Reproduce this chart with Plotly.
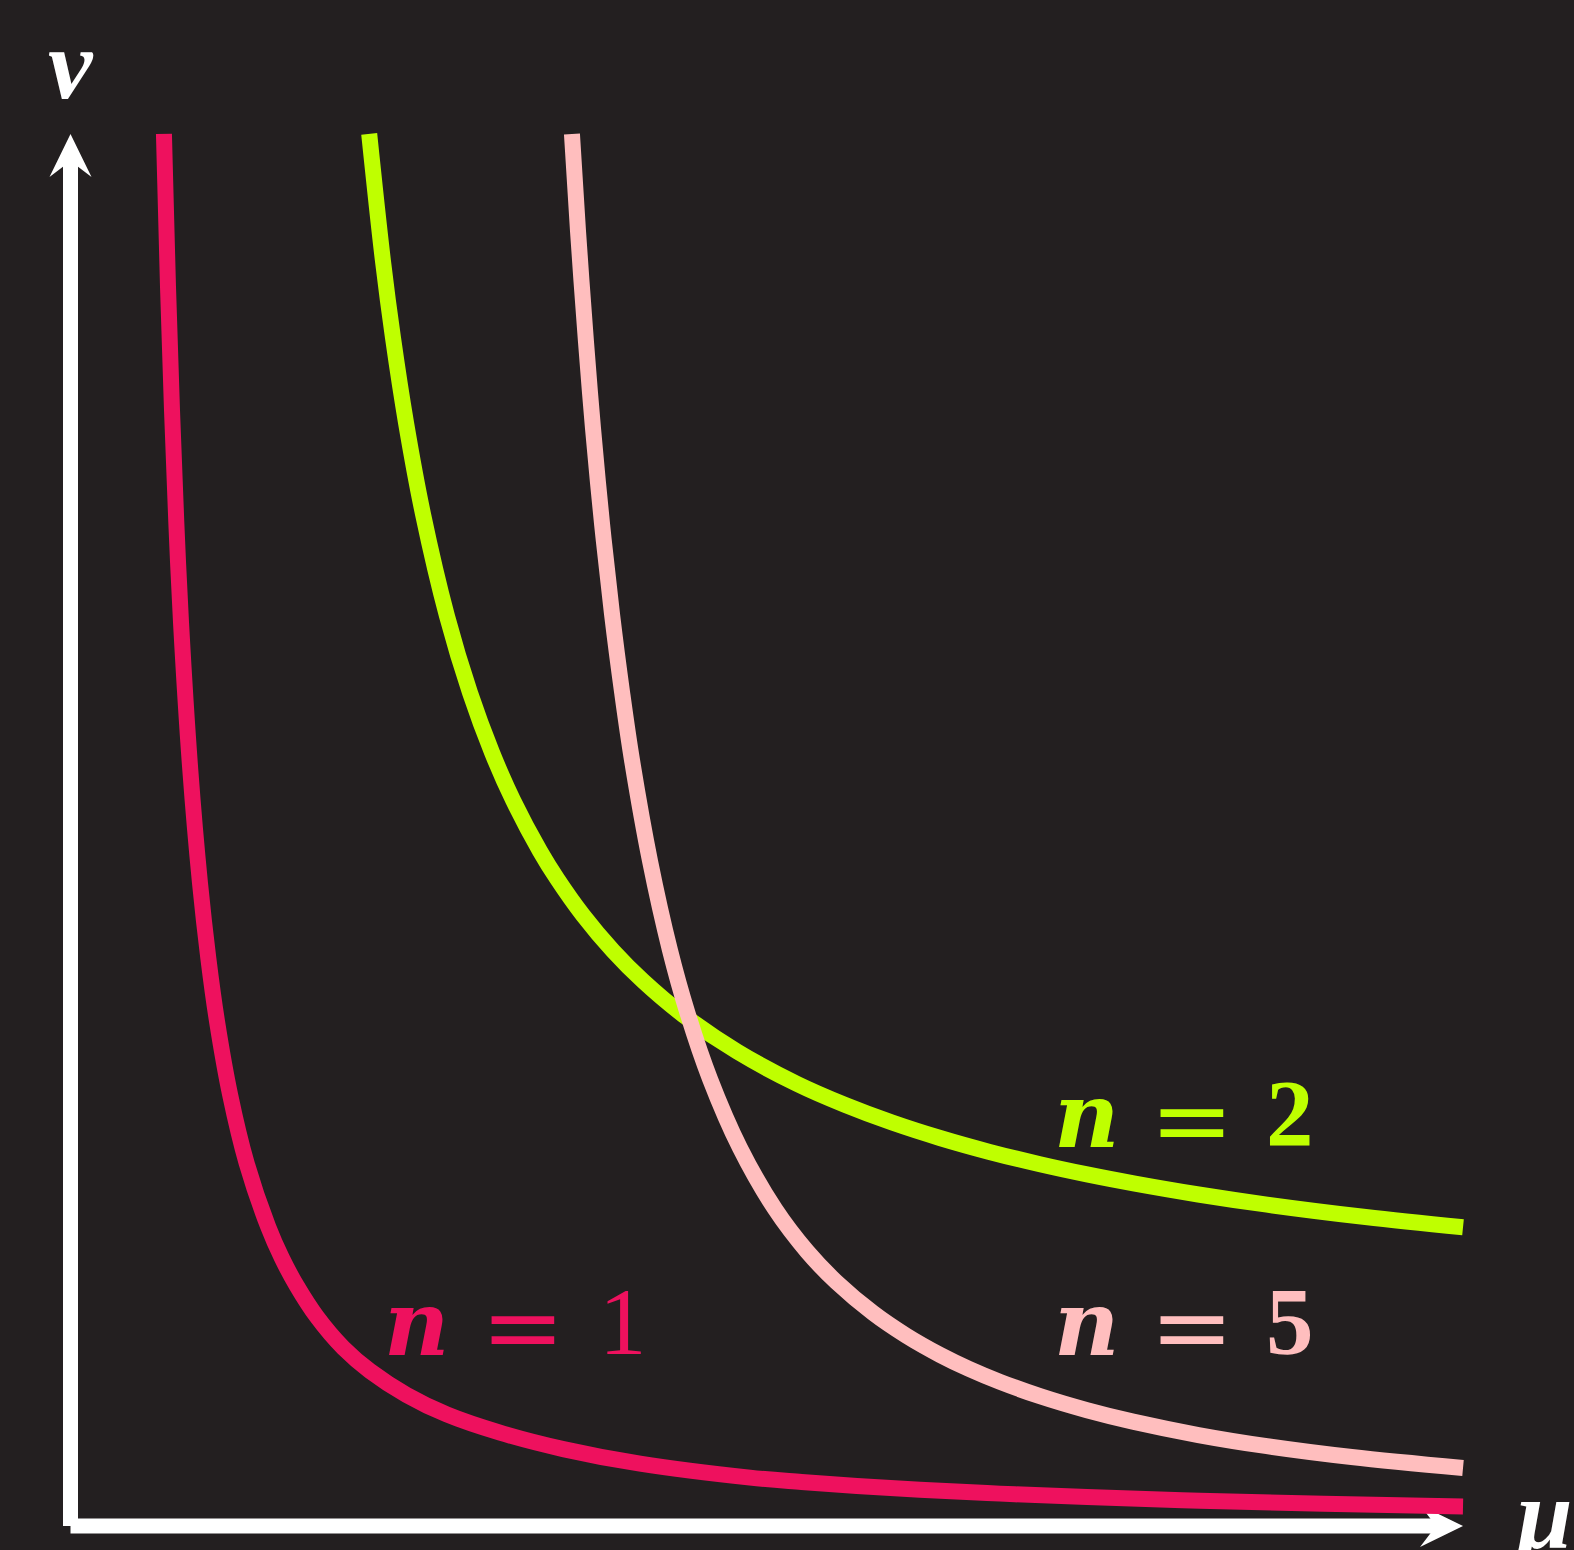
import plotly.graph_objects as go

# ---- data (mu on x, nu on y) ----
mu_n1 = [0.671, 0.700, 0.729, 0.760, 0.794, 0.860, 0.930, 0.990, 1.052, 1.146, 1.265, 1.420,
         1.517, 1.624, 1.768, 1.959, 2.151, 2.414, 2.702, 3.084, 3.539, 4.090, 4.880, 5.250,
         5.648, 6.100, 6.675, 7.300, 8.111, 9.000, 10.0]
nu_n1 = [10.0, 8.906, 8.011, 7.206, 6.483, 5.434, 4.617, 4.077, 3.626, 3.099, 2.606, 2.148,
         1.926, 1.726, 1.504, 1.279, 1.113, 0.941, 0.801, 0.670, 0.552, 0.447, 0.347, 0.316,
         0.287, 0.260, 0.232, 0.207, 0.181, 0.160, 0.140]

mu_n2 = [2.145, 2.244, 2.316, 2.409, 2.531, 2.704, 2.869, 3.027, 3.178, 3.372, 3.494, 3.680,
         3.896, 4.111, 4.399, 4.787, 5.217, 5.562, 5.900, 6.244, 6.600, 6.962, 7.300, 7.644,
         8.100, 8.592, 9.300, 10.0]
nu_n2 = [10.0, 9.086, 8.534, 7.928, 7.271, 6.535, 5.985, 5.556, 5.214, 4.847, 4.650, 4.388,
         4.131, 3.915, 3.672, 3.408, 3.176, 3.025, 2.898, 2.787, 2.687, 2.598, 2.525, 2.459,
         2.381, 2.308, 2.219, 2.145]

mu_n5 = [3.601, 3.645, 3.702, 3.752, 3.817, 3.889, 3.961, 4.032, 4.162, 4.305, 4.427, 4.592,
         4.808, 5.059, 5.289, 5.500, 5.763, 6.000, 6.244, 6.450, 6.675, 6.962, 7.300, 7.630,
         8.100, 8.592, 9.200, 10.0]
nu_n5 = [10.0, 9.296, 8.504, 7.887, 7.200, 6.548, 5.989, 5.503, 4.775, 4.136, 3.697, 3.212,
         2.715, 2.277, 1.973, 1.752, 1.530, 1.368, 1.229, 1.129, 1.035, 0.932, 0.831, 0.749,
         0.653, 0.573, 0.495, 0.416]

series_names = ["n = 1", "n = 2", "n = 5"]
label_digits = ["1", "2", "5"]

BG = "#231F20"
CRIMSON = "#EE115E"
LIME = "#BFFF00"
PINK = "#FFBEBE"
WHITE = "#FFFFFF"
SERIF = "Liberation Serif"
SERIF_WIDE = "DejaVu Serif"

W, H = 1574, 1550
X_RANGE = [-0.5063, 10.797]
Y_RANGE = [-0.173, 10.962]
PX_X = W / (X_RANGE[1] - X_RANGE[0])   # pixels per mu unit
PX_Y = H / (Y_RANGE[1] - Y_RANGE[0])   # pixels per nu unit

LINE_W = 16
AXIS_W = 15

fig = go.Figure()

# axes (drawn below the curves)
AX_END = 10.0
HEAD_LEN, HEAD_HALF, NOTCH = 43, 21, 27  # pixels
LINE_BACK = 21
fig.add_shape(type="line", layer="below", xref="x", yref="y",
              x0=0, y0=0, x1=0, y1=AX_END - LINE_BACK / PX_Y,
              line=dict(color=WHITE, width=AXIS_W))
fig.add_shape(type="line", layer="below", xref="x", yref="y",
              x0=0, y0=0, x1=AX_END - LINE_BACK / PX_X, y1=0,
              line=dict(color=WHITE, width=AXIS_W))
hx, hy = HEAD_HALF / PX_X, HEAD_LEN / PX_Y
ny = NOTCH / PX_Y
fig.add_shape(type="path", layer="below", xref="x", yref="y",
              path=f"M 0,{AX_END} L {-hx},{AX_END - hy} L 0,{AX_END - ny} L {hx},{AX_END - hy} Z",
              fillcolor=WHITE, line=dict(width=0))
vx, vy = HEAD_LEN / PX_X, HEAD_HALF / PX_Y
nx = NOTCH / PX_X
fig.add_shape(type="path", layer="below", xref="x", yref="y",
              path=f"M {AX_END},0 L {AX_END - vx},{vy} L {AX_END - nx},0 L {AX_END - vx},{-vy} Z",
              fillcolor=WHITE, line=dict(width=0))

for name, mu, nu, color in [(series_names[0], mu_n1, nu_n1, CRIMSON),
                            (series_names[1], mu_n2, nu_n2, LIME),
                            (series_names[2], mu_n5, nu_n5, PINK)]:
    fig.add_trace(go.Scatter(x=mu, y=nu, mode="lines", name=name,
                             line=dict(color=color, width=LINE_W, shape="spline", smoothing=1.0),
                             hoverinfo="skip", showlegend=False))

annotations = []


def glyph(x, y, text, color, size, family):
    return dict(x=x, y=y, xref="x", yref="y", text=text, showarrow=False,
                xanchor="center", yanchor="middle",
                font=dict(family=family, size=size, color=color))


# axis labels
annotations.append(glyph(0.0, 10.50, "<b><i>ν</i></b>", WHITE, 100, SERIF))
annotations.append(glyph(10.57, 0.083, "<b><i>μ</i></b>", WHITE, 100, SERIF))

# curve labels (n, =, digit)
for (xn, xe, xd, yn, ye, yd, color, dig, bold) in [
        (2.485, 3.250, 3.964, 1.458, 1.430, 1.463, CRIMSON, label_digits[0], False),
        (7.293, 8.057, 8.761, 2.953, 2.920, 2.957, LIME, label_digits[1], True),
        (7.293, 8.057, 8.761, 1.458, 1.430, 1.463, PINK, label_digits[2], True)]:
    annotations.append(glyph(xn, yn, "<b><i>n</i></b>", color, 90, SERIF_WIDE))
    annotations.append(glyph(xe, ye, "=", color, 100, SERIF_WIDE))
    annotations.append(glyph(xd, yd, f"<b>{dig}</b>" if bold else dig, color, 95, SERIF))

fig.update_layout(
    width=W, height=H,
    margin=dict(l=0, r=0, t=0, b=0, pad=0),
    paper_bgcolor=BG, plot_bgcolor=BG,
    xaxis=dict(range=X_RANGE, visible=False, fixedrange=True),
    yaxis=dict(range=Y_RANGE, visible=False, fixedrange=True),
    annotations=annotations,
    showlegend=False,
)

fig.write_html("out.html", config=dict(displayModeBar=False),
               post_script="document.body.style.margin='0';document.body.style.overflow='hidden';")
